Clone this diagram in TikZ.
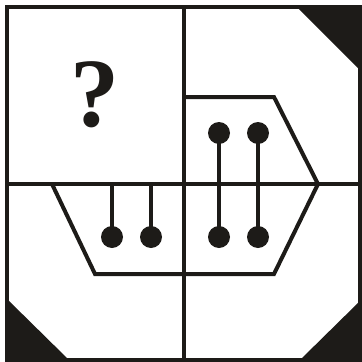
\documentclass[tikz,border=0pt]{standalone}
\usepackage{fontspec}
\newfontfamily\qfont{Liberation Serif}
\definecolor{ink}{RGB}{29,27,24}
\begin{document}
\begin{tikzpicture}[x=1pt,y=-1pt,
  frameline/.style={draw=ink,line width=4.6pt},
  shapeline/.style={draw=ink,line width=4pt,line join=miter},
  stick/.style={draw=ink,line width=3.4pt},
  dot/.style={fill=ink},
  corner/.style={fill=ink}]
\useasboundingbox (0,0) rectangle (362,362);
\fill[white] (0,0) rectangle (362,362);
% corner triangles
\fill[corner] (297,7) -- (360,7) -- (360,70) -- cycle;
\fill[corner] (7,299) -- (7,360) -- (69,360) -- cycle;
\fill[corner] (360,301) -- (360,360) -- (300,360) -- cycle;
% frame and cross
\draw[frameline] (7,7) rectangle (360,360);
\draw[frameline] (184,7) -- (184,360);
\draw[frameline] (7,184) -- (360,184);
% outline shape
\draw[shapeline] (184,97) -- (274,97) -- (318,184) -- (274,274) -- (95,274) -- (52,184);
% sticks
\draw[stick] (219,133) -- (219,237);
\draw[stick] (258,133) -- (258,237);
\draw[stick] (112,184) -- (112,237);
\draw[stick] (151,184) -- (151,237);
% dots
\foreach \p/\q in {219/133,258/133,219/237,258/237,112/237,151/237}
  \fill[dot] (\p,\q) circle (11);
% question mark
\node[text=ink,inner sep=0pt] (q) at (95,95) {\qfont\bfseries\fontsize{98}{98}\selectfont ?};
\end{tikzpicture}
\end{document}
